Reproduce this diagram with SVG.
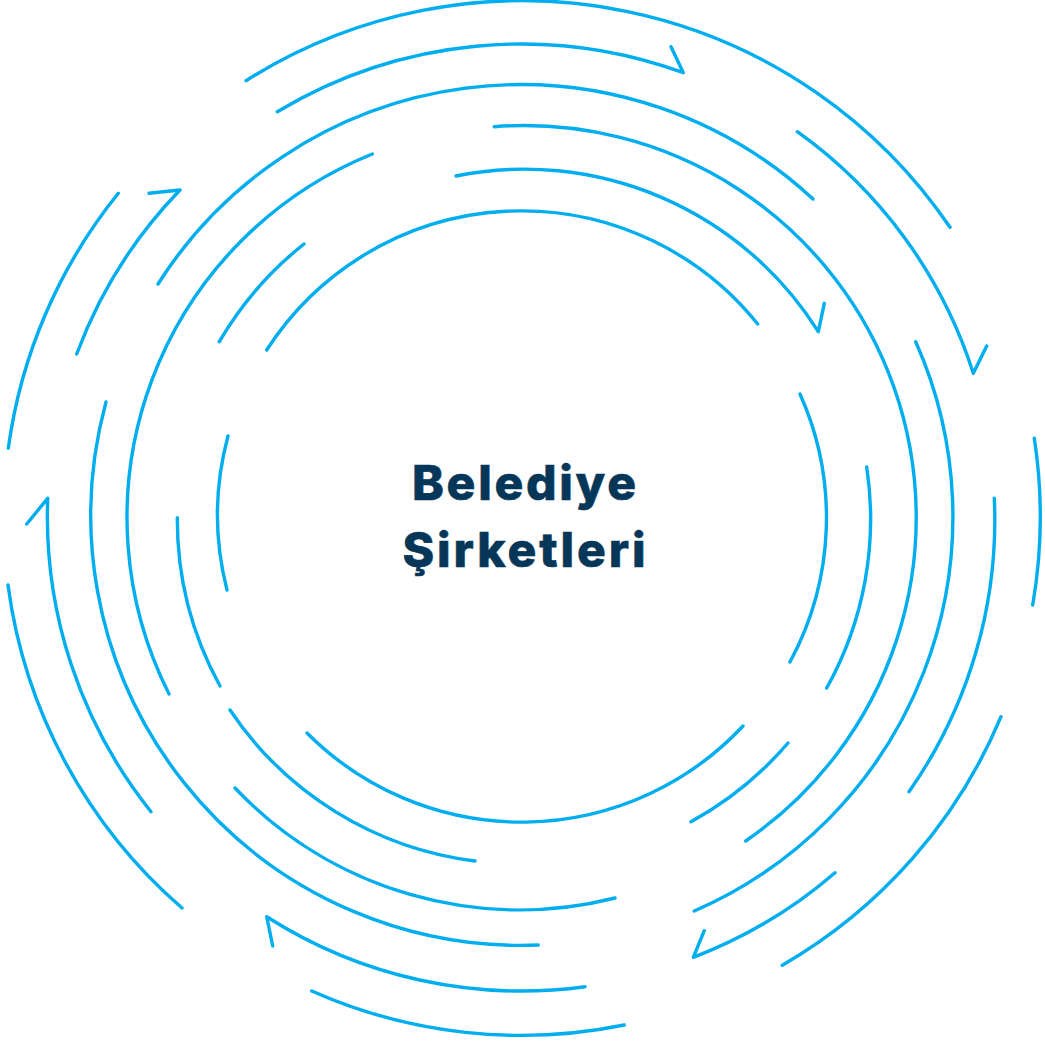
<svg xmlns="http://www.w3.org/2000/svg" width="1045" height="1044" viewBox="0 0 1045 1044">
<style>
.arc{fill:none;stroke:#00AEEF;stroke-width:3.4;stroke-linecap:round;stroke-linejoin:round}
.t{font-family:Inter,"Noto Sans","Liberation Sans",sans-serif;font-weight:800;font-size:48px;fill:#063658;text-anchor:middle;stroke:#063658;stroke-width:0.6}
</style>
<rect width="1045" height="1044" fill="#ffffff"/>
<g id="connectors">
<g id="ring1">
<path class="arc" d="M266.7 350 A303 303 0 0 1 757.7 324"/>
<path class="arc" d="M800 394 A303 303 0 0 1 790 662"/>
<path class="arc" d="M743 726 A303 303 0 0 1 307 733"/>
<path class="arc" d="M227 590 A303 303 0 0 1 228 436"/>
</g>
<g id="ring2">
<path class="arc" d="M456 176 A347 347 0 0 1 818.3 331.7 L824.3 303.3"/>
<path class="arc" d="M866.7 467 A347 347 0 0 1 826.7 688"/>
<path class="arc" d="M788 743 A347 347 0 0 1 691 821.7"/>
<path class="arc" d="M475 861 A347 347 0 0 1 230 710"/>
<path class="arc" d="M220 686 A347 347 0 0 1 177.3 517.7"/>
<path class="arc" d="M219.3 341.7 A347 347 0 0 1 304 244"/>
</g>
<g id="ring3">
<path class="arc" d="M494.3 126.7 A392 392 0 0 1 745.7 841"/>
<path class="arc" d="M615 898 A392 392 0 0 1 235 788"/>
<path class="arc" d="M169 694 A392 392 0 0 1 372.3 154"/>
</g>
<g id="ring4">
<path class="arc" d="M158 284 A430 430 0 0 1 813 199"/>
<path class="arc" d="M915.7 341.7 A430 430 0 0 1 694.3 911"/>
<path class="arc" d="M538.3 945 A430 430 0 0 1 106 402"/>
</g>
<g id="ring5">
<path class="arc" d="M76.7 354 A473 473 0 0 1 180 190 L149 193.3"/>
<path class="arc" d="M277.3 111.7 A473 473 0 0 1 683.3 72.7 L671 46.7"/>
<path class="arc" d="M797.3 131.7 A473 473 0 0 1 973.3 373.3 L986.7 346"/>
<path class="arc" d="M994.3 498.3 A473 473 0 0 1 909 791.7"/>
<path class="arc" d="M835 872.7 A473 473 0 0 1 693.3 957.3 L704.3 930.7"/>
<path class="arc" d="M585 986.7 A473 473 0 0 1 266.7 916.7 L272.7 946"/>
<path class="arc" d="M151 811.7 A473 473 0 0 1 47.7 498.3 L26.7 524"/>
</g>
<g id="ring6">
<path class="arc" d="M8.3 448.3 A517 517 0 0 1 118.3 193.3"/>
<path class="arc" d="M246 80.7 A517 517 0 0 1 950 227.3"/>
<path class="arc" d="M1034.3 438.3 A517 517 0 0 1 1032.7 605"/>
<path class="arc" d="M1001 716.7 A517 517 0 0 1 782.3 965.3"/>
<path class="arc" d="M624.3 1025 A517 517 0 0 1 311.7 991"/>
<path class="arc" d="M182 908 A517 517 0 0 1 8 585"/>
</g>
</g>
<g id="center-node">
<text class="t" x="524" y="500" textLength="224" lengthAdjust="spacing">Belediye</text>
<text class="t" x="524" y="567" textLength="243" lengthAdjust="spacing">Şirketleri</text>
</g>
</svg>
